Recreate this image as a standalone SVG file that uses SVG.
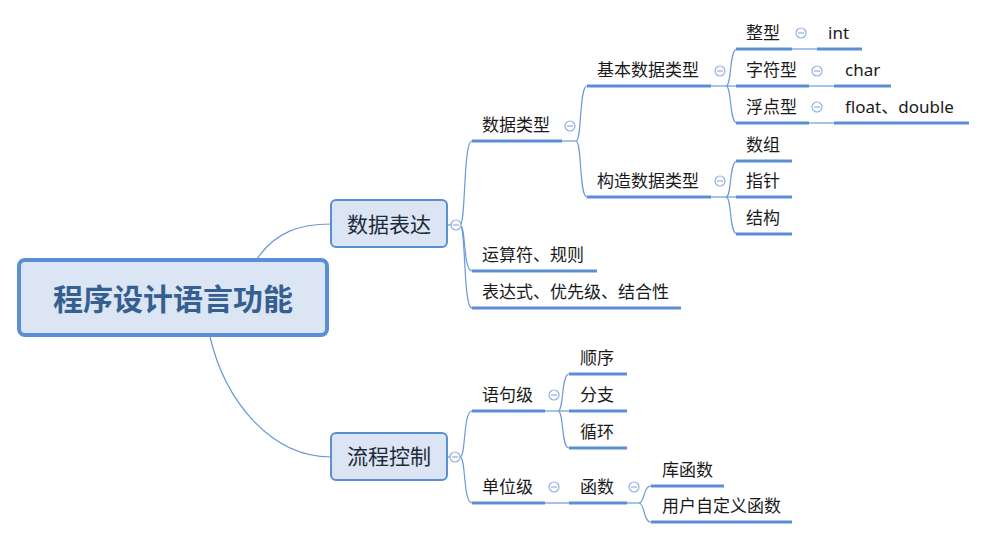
<svg xmlns="http://www.w3.org/2000/svg" width="986" height="539" viewBox="0 0 986 539">
<style>
.t{font-family:"Noto Sans","Noto Sans CJK SC",sans-serif;font-size:17px;fill:#1a1a1a}
.b{font-family:"Noto Sans CJK SC",sans-serif;font-size:21px;fill:#1e2a3a;text-anchor:middle}
.r{font-family:"Noto Sans CJK SC",sans-serif;font-size:30px;font-weight:bold;fill:#365f91;text-anchor:middle}
.box{fill:#dbe5f3;stroke:#5a8fd6;stroke-width:2}
.ul{stroke:#5a8fd6;stroke-width:3;fill:none}
.c{stroke:#6a9ad8;stroke-width:1.2;fill:none}
.m{fill:#fff;stroke:#8fb1e0;stroke-width:1.2}
.mm{stroke:#8fb1e0;stroke-width:1.2}
</style>
<defs>
<g id="minus"><circle r="5" class="m"/><line x1="-3" y1="0" x2="3" y2="0" class="mm"/></g>
</defs>
<g id="connectors">
<path class="c" d="M257 259 C275 232 300 224 331 224"/>
<path class="c" d="M210 337 C225 400 270 457 331 457"/>
<path class="c" d="M448 225 L460 225"/>
<path class="c" d="M460 225 C466 225 463 141 472 141"/>
<path class="c" d="M460 225 C466 225 463 271 472 271"/>
<path class="c" d="M460 225 C466 225 463 308 472 308"/>
<path class="c" d="M562 141 L576 141"/>
<path class="c" d="M576 141 C582 141 579 86 587 86"/>
<path class="c" d="M576 141 C582 141 579 197 587 197"/>
<path class="c" d="M711 86 L736 86"/>
<path class="c" d="M726 86 C732 86 729 49 737 49"/>
<path class="c" d="M726 86 C732 86 729 123 737 123"/>
<path class="c" d="M792 49 L817 49"/>
<path class="c" d="M809 86 L834 86"/>
<path class="c" d="M809 123 L834 123"/>
<path class="c" d="M711 197 L736 197"/>
<path class="c" d="M726 197 C732 197 729 161 737 161"/>
<path class="c" d="M726 197 C732 197 729 234 737 234"/>
<path class="c" d="M448 457 L460 457"/>
<path class="c" d="M460 457 C466 457 463 411 472 411"/>
<path class="c" d="M460 457 C466 457 463 503 472 503"/>
<path class="c" d="M545 411 L569 411"/>
<path class="c" d="M558 411 C564 411 561 374 569 374"/>
<path class="c" d="M558 411 C564 411 561 448 569 448"/>
<path class="c" d="M545 503 L569 503"/>
<path class="c" d="M627 503 L639 503"/>
<path class="c" d="M639 503 C645 503 643 486 651 486"/>
<path class="c" d="M639 503 C645 503 643 522 651 522"/>
</g>
<g id="root">
<rect x="19" y="260" width="308" height="75" rx="6" fill="#dbe5f3" stroke="#5a8fd6" stroke-width="4"/>
<text class="r" x="173" y="310">程序设计语言功能</text>
</g>
<g id="n-sjbd">
<rect class="box" x="331" y="200" width="116" height="47" rx="5"/>
<text class="b" x="389" y="232">数据表达</text>
<use href="#minus" x="456" y="225"/>
</g>
<g id="n-lckz">
<rect class="box" x="331" y="433" width="116" height="47" rx="5"/>
<text class="b" x="389" y="464">流程控制</text>
<use href="#minus" x="455" y="457"/>
</g>
<g id="n-sjlx">
<text class="t" x="482" y="131">数据类型</text>
<line class="ul" x1="472" y1="141" x2="562" y2="141"/>
<use href="#minus" x="570" y="126"/>
</g>
<g id="n-ysf">
<text class="t" x="482" y="261">运算符、规则</text>
<line class="ul" x1="472" y1="271" x2="597" y2="271"/>
</g>
<g id="n-bds">
<text class="t" x="482" y="298">表达式、优先级、结合性</text>
<line class="ul" x1="472" y1="308" x2="681" y2="308"/>
</g>
<g id="n-jbsjlx">
<text class="t" x="597" y="76">基本数据类型</text>
<line class="ul" x1="587" y1="86" x2="711" y2="86"/>
<use href="#minus" x="720" y="71"/>
</g>
<g id="n-gzsjlx">
<text class="t" x="597" y="187">构造数据类型</text>
<line class="ul" x1="587" y1="197" x2="711" y2="197"/>
<use href="#minus" x="720" y="181"/>
</g>
<g id="n-zx">
<text class="t" x="746" y="39">整型</text>
<line class="ul" x1="736" y1="49" x2="792" y2="49"/>
<use href="#minus" x="801" y="33"/>
</g>
<g id="n-int">
<text class="t" x="828" y="39">int</text>
<line class="ul" x1="817" y1="49" x2="862" y2="49"/>
</g>
<g id="n-zfx">
<text class="t" x="746" y="76">字符型</text>
<line class="ul" x1="736" y1="86" x2="809" y2="86"/>
<use href="#minus" x="817" y="71"/>
</g>
<g id="n-char">
<text class="t" x="845" y="76">char</text>
<line class="ul" x1="834" y1="86" x2="891" y2="86"/>
</g>
<g id="n-fdx">
<text class="t" x="746" y="113">浮点型</text>
<line class="ul" x1="736" y1="123" x2="809" y2="123"/>
<use href="#minus" x="817" y="107"/>
</g>
<g id="n-float">
<text class="t" x="845" y="113">float、double</text>
<line class="ul" x1="834" y1="123" x2="969" y2="123"/>
</g>
<g id="n-sz">
<text class="t" x="746" y="151">数组</text>
<line class="ul" x1="736" y1="161" x2="792" y2="161"/>
</g>
<g id="n-zz">
<text class="t" x="746" y="187">指针</text>
<line class="ul" x1="736" y1="197" x2="792" y2="197"/>
</g>
<g id="n-jg">
<text class="t" x="746" y="224">结构</text>
<line class="ul" x1="736" y1="234" x2="792" y2="234"/>
</g>
<g id="n-yjj">
<text class="t" x="482" y="401">语句级</text>
<line class="ul" x1="472" y1="411" x2="545" y2="411"/>
<use href="#minus" x="554" y="395"/>
</g>
<g id="n-sx">
<text class="t" x="580" y="364">顺序</text>
<line class="ul" x1="569" y1="374" x2="627" y2="374"/>
</g>
<g id="n-fz">
<text class="t" x="580" y="401">分支</text>
<line class="ul" x1="569" y1="411" x2="627" y2="411"/>
</g>
<g id="n-xh">
<text class="t" x="580" y="438">循环</text>
<line class="ul" x1="569" y1="448" x2="627" y2="448"/>
</g>
<g id="n-dwj">
<text class="t" x="482" y="493">单位级</text>
<line class="ul" x1="472" y1="503" x2="545" y2="503"/>
<use href="#minus" x="554" y="487"/>
</g>
<g id="n-hs">
<text class="t" x="580" y="493">函数</text>
<line class="ul" x1="569" y1="503" x2="627" y2="503"/>
<use href="#minus" x="634" y="487"/>
</g>
<g id="n-khs">
<text class="t" x="662" y="476">库函数</text>
<line class="ul" x1="651" y1="486" x2="724" y2="486"/>
</g>
<g id="n-yhzdy">
<text class="t" x="662" y="512">用户自定义函数</text>
<line class="ul" x1="651" y1="522" x2="792" y2="522"/>
</g>
</svg>
